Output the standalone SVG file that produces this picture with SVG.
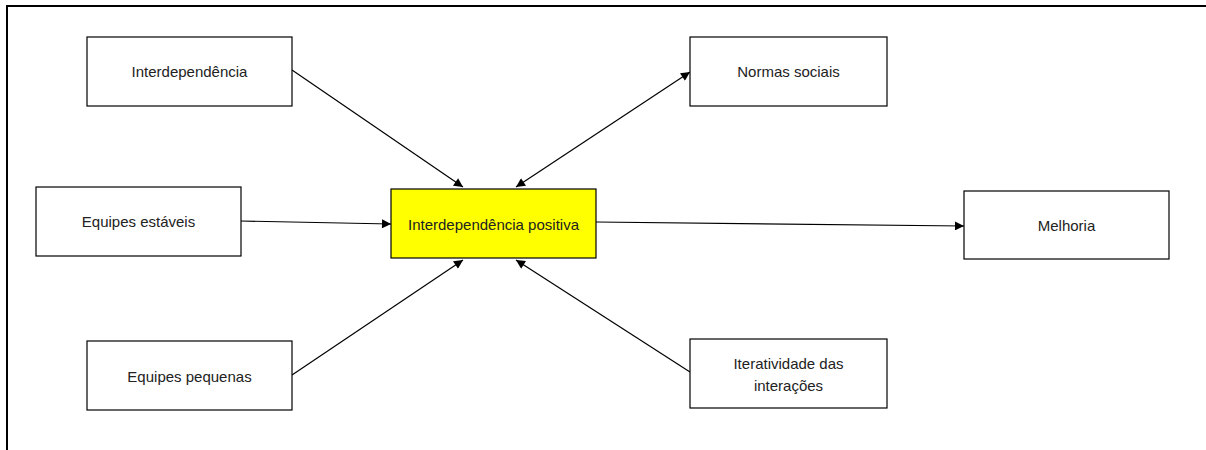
<svg xmlns="http://www.w3.org/2000/svg" width="1206" height="450" viewBox="0 0 1206 450">
<defs>
<marker id="ah" viewBox="0 0 10 10" refX="10" refY="5" markerWidth="10" markerHeight="9" markerUnits="userSpaceOnUse" orient="auto-start-reverse">
<path d="M0,0 L10,5 L0,10 z" fill="#000"/>
</marker>
<style>
.box{fill:#fff;stroke:#000;stroke-width:1.2}
.ctr{fill:#ffff00;stroke:#000;stroke-width:1.2}
.t{font-family:"Liberation Sans",Arial,sans-serif;font-size:15px;fill:#222;text-anchor:middle}
.c{stroke:#000;stroke-width:1.2;fill:none}
.frame{stroke:#000;stroke-width:2;fill:none}
</style>
</defs>
<rect width="1206" height="450" fill="#fff"/>
<path class="frame" d="M7,450 L7,6 L1206,6"/>
<g id="connectors">
<line class="c" x1="292" y1="70" x2="463" y2="187" marker-end="url(#ah)"/>
<line class="c" x1="516" y1="187" x2="690" y2="72" marker-start="url(#ah)" marker-end="url(#ah)"/>
<line class="c" x1="241" y1="221" x2="391" y2="224" marker-end="url(#ah)"/>
<line class="c" x1="596" y1="222" x2="964" y2="226" marker-end="url(#ah)"/>
<line class="c" x1="292" y1="375" x2="463" y2="260" marker-end="url(#ah)"/>
<line class="c" x1="690" y1="372" x2="516" y2="260" marker-end="url(#ah)"/>
</g>
<g id="n-interdependencia">
<rect class="box" x="87" y="37" width="205" height="69"/>
<text class="t" x="189.5" y="77">Interdependência</text>
</g>
<g id="n-normas">
<rect class="box" x="690" y="37" width="197" height="69"/>
<text class="t" x="788.5" y="77">Normas sociais</text>
</g>
<g id="n-estaveis">
<rect class="box" x="36" y="187" width="205" height="69"/>
<text class="t" x="138.5" y="227">Equipes estáveis</text>
</g>
<g id="n-central">
<rect class="ctr" x="391" y="189" width="205" height="69"/>
<text class="t" x="493.5" y="230">Interdependência positiva</text>
</g>
<g id="n-melhoria">
<rect class="box" x="964" y="191" width="205" height="68"/>
<text class="t" x="1066.5" y="231">Melhoria</text>
</g>
<g id="n-pequenas">
<rect class="box" x="87" y="341" width="205" height="69"/>
<text class="t" x="189.5" y="382">Equipes pequenas</text>
</g>
<g id="n-iteratividade">
<rect class="box" x="690" y="339" width="197" height="69"/>
<text class="t" x="788.5" y="369">Iteratividade das</text>
<text class="t" x="788.5" y="391">interações</text>
</g>
</svg>
